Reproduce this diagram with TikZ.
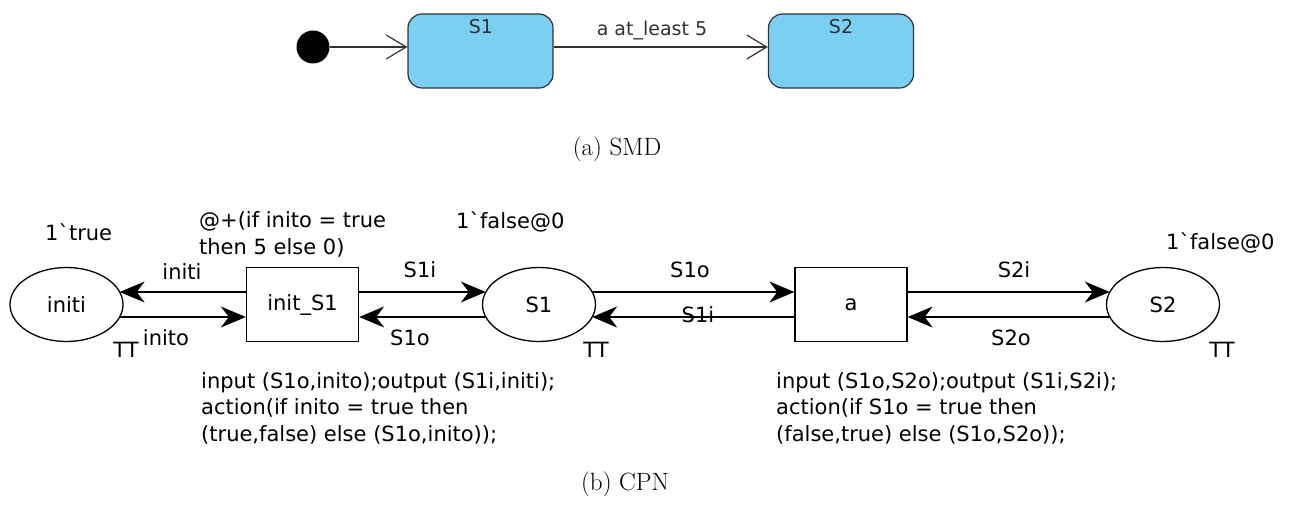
\documentclass[tikz,border=0pt]{standalone}
\usepackage{fontspec}
\usetikzlibrary{shapes.geometric,arrows.meta}
\newfontfamily\cpnfont{DejaVu Sans}
\definecolor{smdblue}{RGB}{122,207,242}
\definecolor{smdline}{RGB}{50,50,50}
\tikzset{
  cpntext/.style={font=\cpnfont\fontsize{21}{26.5}\selectfont, inner sep=0pt},
  smdtext/.style={font=\cpnfont\fontsize{19}{23}\selectfont, inner sep=0pt, text=smdline},
  captext/.style={font=\fontsize{25}{30}\selectfont, inner sep=0pt},
  place/.style={ellipse, draw, line width=1.3pt, minimum width=113pt, minimum height=74pt, inner sep=0pt, cpntext},
  trans/.style={rectangle, draw, line width=1.3pt, minimum width=112pt, minimum height=74pt, inner sep=0pt, cpntext},
  arc/.style={line width=1.3pt, -{Stealth[length=25pt,width=21pt,inset=8pt]}},
  smdstate/.style={rectangle, rounded corners=14pt, draw=smdline, fill=smdblue, line width=1.2pt, minimum width=145pt, minimum height=74pt, inner sep=0pt},
  smdarrow/.style={draw=smdline, line width=1.2pt, -{Straight Barb[length=20pt,width=24pt,line width=1.2pt]}},
  up/.style={yshift=12.5pt},
  dn/.style={yshift=-12.5pt},
}
\begin{document}
\begin{tikzpicture}[x=1pt,y=-1pt]
\useasboundingbox (0,0) rectangle (1298,505);
% ---------- SMD ----------
\node[circle, fill=black, minimum size=33pt, inner sep=0pt] (init) at (313,47) {};
\node[smdstate] (s1) at (480.5,51) {};
\node[smdstate] (s2) at (841,51) {};
\node[smdtext] (s1lab) at (481,27) {S1};
\node[smdtext] (s2lab) at (841,27) {S2};
\draw[smdarrow] (init) -- (init -| s1.west);
\draw[smdarrow] (init -| s1.east) -- (init -| s2.west);
\node[smdtext] (tlab) at (652,31) {a at\_least 5};
\node[captext] (capa) at (617,149) {(a) SMD};
% ---------- CPN ----------
\node[place] (initi) at (66.5,304.5) {initi};
\node[trans] (initS1) at (302.5,304.5) {init\_S1};
\node[place] (pS1) at (539,304.5) {S1};
\node[trans] (ta) at (851,304.5) {a};
\node[place] (pS2) at (1163,304.5) {S2};
\draw[arc] ([up]initS1.west) -- ([shift={(53.2pt,12.5pt)}]initi.center);
\draw[arc] ([shift={(53.2pt,-12.5pt)}]initi.center) -- ([dn]initS1.west);
\draw[arc] ([up]initS1.east) -- ([shift={(-53.2pt,12.5pt)}]pS1.center);
\draw[arc] ([shift={(-53.2pt,-12.5pt)}]pS1.center) -- ([dn]initS1.east);
\draw[arc] ([shift={(53.2pt,12.5pt)}]pS1.center) -- ([up]ta.west);
\draw[arc] ([dn]ta.west) -- ([shift={(53.2pt,-12.5pt)}]pS1.center);
\draw[arc] ([up]ta.east) -- ([shift={(-53.2pt,12.5pt)}]pS2.center);
\draw[arc] ([shift={(-53.2pt,-12.5pt)}]pS2.center) -- ([dn]ta.east);
% labels
\node[cpntext, anchor=west] (m0) at (45,232) {1\textasciigrave true};
\node[cpntext, anchor=west, align=left] (delay) at (199,234.5) {@+(if inito = true\\then 5 else 0)};
\node[cpntext, anchor=west] (m1) at (456,222) {1\textasciigrave false@0};
\node[cpntext, anchor=west] (m2) at (1166,243) {1\textasciigrave false@0};
\node[cpntext] (l1) at (182,272) {initi};
\node[cpntext] (l2) at (166,338) {inito};
\node[cpntext] (tt1) at (126,350) {TT};
\node[cpntext] (l3) at (420,270) {S1i};
\node[cpntext] (l4) at (410,338) {S1o};
\node[cpntext] (tt2) at (596,350) {TT};
\node[cpntext] (l5) at (690,270) {S1o};
\node[cpntext] (l6) at (698,315) {S1i};
\node[cpntext] (l7) at (1014,270) {S2i};
\node[cpntext] (l8) at (1011,338) {S2o};
\node[cpntext] (tt3) at (1222,350) {TT};
\node[cpntext, anchor=north west, align=left] (code1) at (201,372) {input (S1o,inito);output (S1i,initi);\\action(if inito = true then\\(true,false) else (S1o,inito));};
\node[cpntext, anchor=north west, align=left] (code2) at (776,372) {input (S1o,S2o);output (S1i,S2i);\\action(if S1o = true then\\(false,true) else (S1o,S2o));};
\node[captext] (capb) at (625,484) {(b) CPN};
\end{tikzpicture}
\end{document}
